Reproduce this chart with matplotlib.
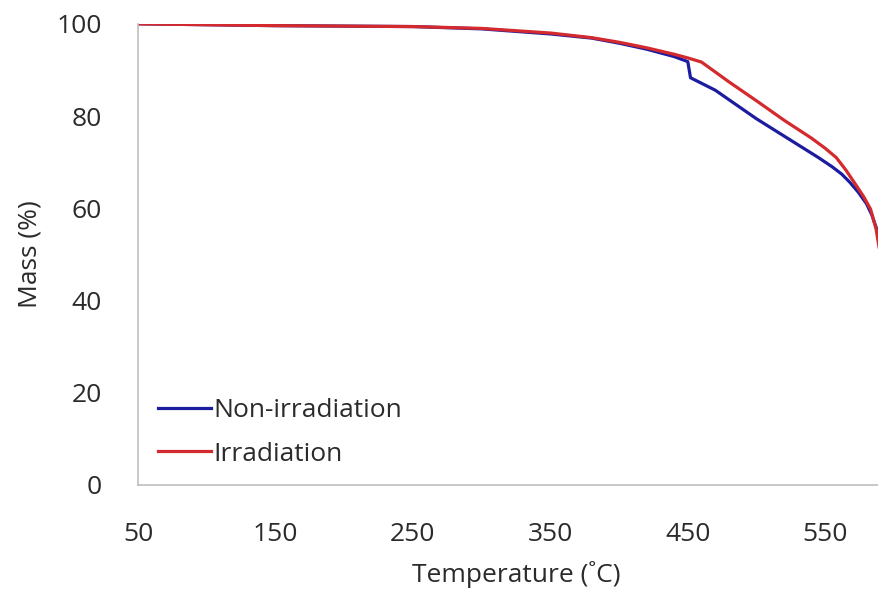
import matplotlib
matplotlib.use("Agg")
import matplotlib.pyplot as plt

# TGA curves
temp_non = [50, 100, 150, 200, 250, 300, 350, 380, 400, 420, 440, 450, 452,
            470, 500, 530, 545, 555, 562, 568, 574, 580, 584, 588, 592, 596]
mass_non = [100, 99.8, 99.6, 99.5, 99.4, 98.9, 97.8, 96.9, 95.8, 94.5, 92.9, 91.8, 88.3,
            85.6, 79.4, 73.8, 71.0, 69.0, 67.4, 65.6, 63.5, 61.0, 58.5, 55.0, 50.0, 44.0]

temp_irr = [50, 100, 150, 200, 250, 300, 350, 380, 400, 420, 440, 450, 460,
            480, 500, 520, 540, 550, 558, 565, 572, 578, 583, 587, 590, 594]
mass_irr = [100, 99.8, 99.6, 99.5, 99.4, 99.0, 98.0, 97.0, 96.0, 94.8, 93.4, 92.6, 91.7,
            87.4, 83.3, 79.1, 75.2, 73.0, 71.0, 68.3, 65.2, 62.5, 59.8, 55.5, 50.0, 43.0]

x_ticks = [50, 150, 250, 350, 450, 550]
y_ticks = [0, 20, 40, 60, 80, 100]

plt.rcParams['font.family'] = ['Open Sans', 'DejaVu Sans']

fig = plt.figure(figsize=(8.79, 5.95), dpi=100)
ax = fig.add_axes([0.157, 0.185, 0.86, 0.775])

ax.plot(temp_non, mass_non, color='#1c1ca0', lw=2.3, label='Non-irradiation')
ax.plot(temp_irr, mass_irr, color='#d42a2e', lw=2.3, label='Irradiation')

ax.set_xlim(50, 600)
ax.set_ylim(0, 100)
ax.set_xticks(x_ticks)
ax.set_yticks(y_ticks)
ax.tick_params(length=0, labelsize=19, colors='#2b2b2b')
ax.tick_params(axis='x', pad=27)
ax.tick_params(axis='y', pad=26)

for side in ['top', 'right']:
    ax.spines[side].set_visible(False)
for side in ['left', 'bottom']:
    ax.spines[side].set_color('#bfbfbf')
    ax.spines[side].set_linewidth(1.2)

ax.set_xlabel('Temperature (˚C)', fontsize=19, color='#2b2b2b', labelpad=10)
ax.set_ylabel('Mass (%)', fontsize=19, color='#2b2b2b', labelpad=10)

ax.legend(loc='lower left', bbox_to_anchor=(-0.005, -0.012), frameon=False,
          fontsize=19, handlelength=2.0, handletextpad=0.1, labelspacing=0.7,
          labelcolor='#2b2b2b')

fig.savefig('out.png', dpi=100)
